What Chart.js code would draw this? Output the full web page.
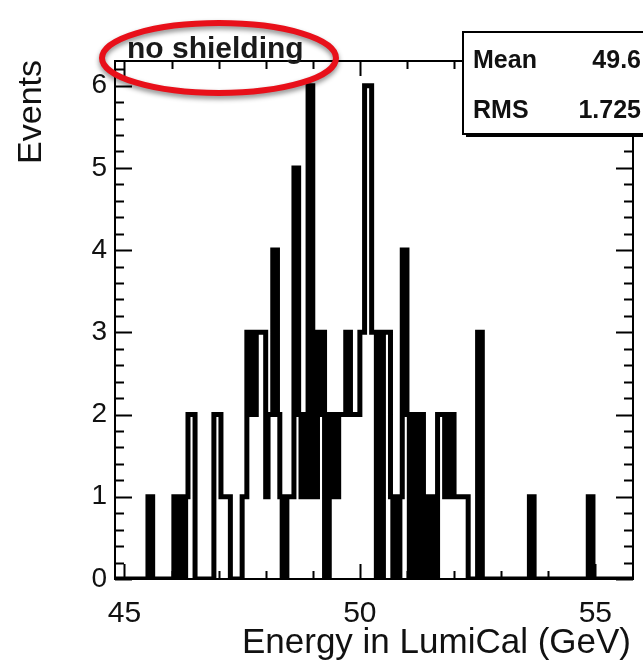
<!DOCTYPE html>
<html>
<head>
<meta charset="utf-8">
<script src="https://cdn.jsdelivr.net/npm/chart.js@4"></script>
<style>
  html, body { margin: 0; padding: 0; background: #fff; }
  canvas { display: block; }
</style>
</head>
<body>
<canvas id="myChart" width="643" height="665"></canvas>
<script>
// ---- histogram: energy in LumiCal, 0.05 GeV bins from 44.8 to 55.8
const xRange = [44.8, 55.8];
const yRange = [0, 6.3];
const binWidth = 0.05;
const counts = [
  0,0,0,0,0,0,0,0,0,0, 0,0,0,0,0,1,1,0,0,0,
  0,0,0,0,0,0,1,1,0,1, 0,1,2,2,2,0,0,0,0,0,
  0,0,0,2,2,2,1,1,1,1, 0,0,0,0,0,1,1,3,2,3,
  2,3,3,3,3,1,2,2,4,4, 2,1,0,0,1,1,1,5,5,2,
  1,2,1,6,6,1,1,3,2,3, 0,0,2,1,2,1,2,2,2,3,
  3,2,2,2,2,3,3,6,6,6, 3,3,0,3,0,3,3,3,1,0,
  1,0,1,4,4,2,0,2,0,2, 0,2,1,0,1,0,1,0,2,2,
  2,1,2,1,2,1,1,1,1,1, 1,0,0,0,0,3,3,0,0,0,
  0,0,0,0,0,0,0,0,0,0, 0,0,0,0,0,0,0,1,1,0,
  0,0,0,0,0,0,0,0,0,0, 0,0,0,0,0,0,0,0,0,0,
  0,0,1,1,0,0,0,0,0,0, 0,0,0,0,0,0,0,0,0,0
];
const xMajor = [45, 50, 55];
const xMinor = [46, 47, 48, 49, 51, 52, 53, 54];
const yMajor = [0, 1, 2, 3, 4, 5, 6];
const statLabels = ['Mean', 'RMS'];
const statValues = ['49.6', '1.725'];
const xTitle = 'Energy in LumiCal (GeV)';
const yTitle = 'Events';
const caption = 'no shielding';

const FONT = '"Liberation Sans", Arial, Helvetica, sans-serif';

// step points: one per low bin edge, plus the closing edge
const points = counts.map((c, i) => ({ x: xRange[0] + i * binWidth, y: c }));
points.push({ x: xRange[1], y: 0 });

//----PLUGINS----------------------------
const rootFrame = {
  id: 'rootFrame',
  afterDatasetsDraw(chart) {
    const { ctx, chartArea: { top, bottom, left, right }, scales: { x, y } } = chart;
    ctx.save();
    ctx.strokeStyle = '#000';
    ctx.lineWidth = 2;
    ctx.strokeRect(left, top, right - left, bottom - top);

    ctx.beginPath();
    // y ticks, both sides, pointing in
    for (let v = 0; v <= 6.2001; v += 0.2) {
      const py = Math.round(y.getPixelForValue(v)) + 0.5;
      const major = Math.abs(v - Math.round(v)) < 1e-6;
      const len = major ? 17 : 9;
      ctx.moveTo(left, py); ctx.lineTo(left + len, py);
      ctx.moveTo(right, py); ctx.lineTo(right - len, py);
    }
    // x ticks, bottom and top
    xMajor.concat(xMinor).forEach(v => {
      const px = Math.round(x.getPixelForValue(v)) + 0.5;
      const len = xMajor.includes(v) ? 15 : 8;
      ctx.moveTo(px, bottom); ctx.lineTo(px, bottom - len);
      ctx.moveTo(px, top); ctx.lineTo(px, top + len);
    });
    ctx.stroke();
    ctx.restore();
  }
};

const decorations = {
  id: 'decorations',
  afterDraw(chart) {
    const { ctx, chartArea: { right } } = chart;
    ctx.save();
    ctx.fillStyle = '#111';

    // axis titles
    ctx.font = '35px ' + FONT;
    ctx.textAlign = 'right';
    ctx.textBaseline = 'alphabetic';
    ctx.fillText(xTitle, right - 2, 653);

    ctx.save();
    ctx.translate(41, 60);
    ctx.rotate(-Math.PI / 2);
    ctx.font = '34px ' + FONT;
    ctx.textAlign = 'right';
    ctx.fillText(yTitle, 0, 0);
    ctx.restore();

    // stats box
    const bx = 463, by = 32, bw = 200, bh = 102;
    ctx.fillStyle = '#000';
    ctx.fillRect(bx + 3, by + 3, bw, bh);
    ctx.fillStyle = '#fff';
    ctx.fillRect(bx, by, bw, bh);
    ctx.strokeStyle = '#000';
    ctx.lineWidth = 2;
    ctx.strokeRect(bx, by, bw, bh);
    ctx.fillStyle = '#111';
    ctx.font = 'bold 25px ' + FONT;
    statLabels.forEach((lab, i) => {
      const base = 68 + i * 50;
      ctx.textAlign = 'left';
      ctx.fillText(lab, 473, base);
      ctx.textAlign = 'right';
      ctx.fillText(statValues[i], 641, base);
    });

    // caption and its red ring
    ctx.font = 'bold 30px ' + FONT;
    ctx.textAlign = 'left';
    ctx.fillStyle = '#1a1a1a';
    ctx.fillText(caption, 127, 58);

    ctx.save();
    ctx.shadowColor = 'rgba(0,0,0,0.45)';
    ctx.shadowBlur = 5;
    ctx.shadowOffsetY = 3;
    ctx.strokeStyle = '#e8101a';
    ctx.lineWidth = 6;
    ctx.beginPath();
    ctx.ellipse(219, 58, 117, 35, 0, 0, Math.PI * 2);
    ctx.stroke();
    ctx.restore();

    ctx.restore();
  }
};

//-----CONFIG------------------------------------------
const config = {
  type: 'line',
  data: {
    datasets: [{
      data: points,
      stepped: 'after',
      borderColor: '#000',
      borderWidth: 5,
      borderJoinStyle: 'miter',
      borderCapStyle: 'butt',
      pointRadius: 0,
      fill: false
    }]
  },
  options: {
    responsive: false,
    animation: false,
    devicePixelRatio: 1,
    layout: { padding: { top: 61, right: 10, left: 0, bottom: 0 } },
    plugins: { legend: { display: false }, tooltip: { enabled: false } },
    scales: {
      x: {
        type: 'linear',
        min: xRange[0],
        max: xRange[1],
        grid: { display: false },
        border: { display: false },
        afterBuildTicks: (s) => { s.ticks = xMajor.map(v => ({ value: v })); },
        afterFit: (s) => { s.height = 86; },
        ticks: {
          autoSkip: false, maxRotation: 0, padding: 9, color: '#111',
          font: { family: FONT, size: 30 }
        }
      },
      y: {
        min: yRange[0],
        max: yRange[1],
        grid: { display: false },
        border: { display: false },
        afterBuildTicks: (s) => { s.ticks = yMajor.map(v => ({ value: v })); },
        afterFit: (s) => { s.width = 115; },
        ticks: {
          padding: 0, color: '#111',
          font: { family: FONT, size: 28 }
        }
      }
    }
  },
  plugins: [rootFrame, decorations]
};

const myChart = new Chart(document.getElementById('myChart'), config);
</script>
</body>
</html>
